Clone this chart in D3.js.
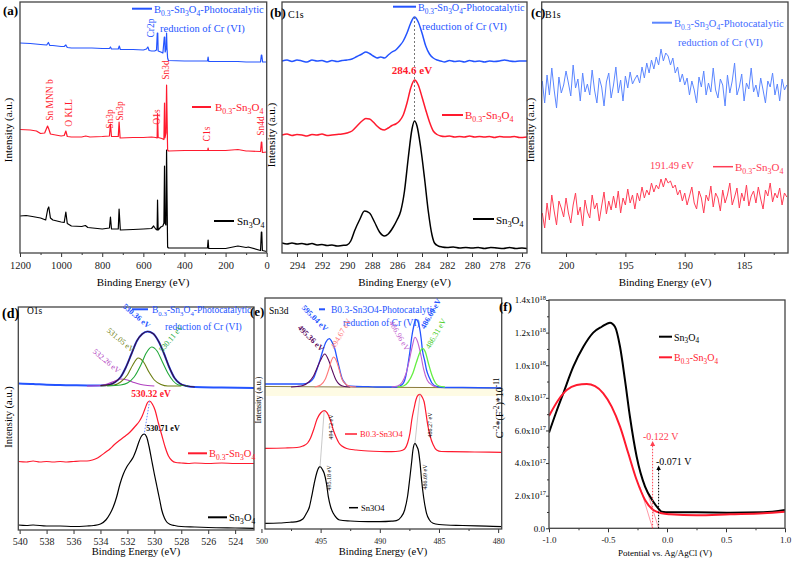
<!DOCTYPE html>
<html><head><meta charset="utf-8">
<script src="https://cdn.jsdelivr.net/npm/d3@7"></script>
<style>body{margin:0;background:#fff}</style>
</head><body><script>
// ---------------- DATA ----------------
// (a) survey spectra [binding energy eV, intensity a.u.]
const aBlue=[[1200,210],[1150,209.5],[1100,208.5],[1070,208],[1062,210.5],[1055,207.5],[1040,207.5],[1000,206.5],[985,206.5],[977,208],[970,205.5],[950,205],[900,205],[850,205],[800,204.5],[765,204.5],[760,206],[755,204],[722,204],[717,207],[712,203.5],[650,203.5],[600,203],[585,204],[578,206],[572,202.5],[560,202],[545,202],[536,203],[532,220],[530,220],[528,202],[515,201],[505,200],[498,216],[496,216],[494,201],[489,205],[487,220],[485,205],[482,195],[478,192.5],[400,192],[300,192],[288,192],[285,196],[282,191.5],[200,191.5],[140,191.5],[100,191],[30,191],[26,198],[24,198],[20,191],[0,191]];
const aRed=[[1200,123.5],[1150,123],[1120,122],[1100,119.5],[1080,120],[1066,127],[1060,124],[1052,119],[1040,118.5],[1000,117],[985,117.5],[977,122],[970,116.5],[950,116],[900,116],[880,117],[860,116],[800,116.5],[765,117],[760,129],[755,116.5],[722,116.5],[718,131],[713,115],[650,115.5],[600,115.5],[560,116],[540,115.5],[533,115],[531,139.5],[528,115.5],[510,114.5],[500,113.5],[497,150],[495,115],[490,120],[487,168],[485,140],[482,103],[478,102],[400,102.5],[300,102.5],[287,102.5],[285,105],[283,102.5],[200,102.5],[140,103.5],[100,102],[90,102],[30,101.5],[26,111],[24,111],[21,100.5],[0,101]];
const aBlack=[[1200,37],[1170,37.5],[1140,36.5],[1100,35],[1075,33],[1065,44],[1060,46],[1052,35],[1040,33],[1000,31],[985,30.5],[977,41],[970,29.5],[950,27],[900,26.5],[882,27.5],[870,25.5],[800,24],[765,25],[760,36],[755,24],[722,24],[718,44],[712,23],[650,23.5],[600,24],[560,24.5],[550,27],[540,24],[533,23],[531,53],[528,23],[515,26],[505,27],[500,30],[497,87],[495,30],[490,28],[487,103],[485,60],[482,6],[478,5],[400,5],[300,5],[288,5],[285,13],[282,4.5],[200,4.5],[140,7],[100,5.5],[90,6],[30,2.5],[26,21],[24,21],[21,2.5],[0,1.5]];
// (b) C1s
const bBlue=[[295.2,192],[294.8,193],[294.4,191.5],[294,193],[293.6,192],[293.2,191],[292.8,193],[292.4,192],[292,192.5],[291.6,191],[291.2,192.5],[290.8,191.5],[290.4,192.5],[290,193],[289.6,194],[289.2,196.5],[288.8,199],[288.5,201],[288.2,199.5],[287.9,197],[287.6,195],[287.3,196],[287,195],[286.7,198],[286.4,201],[286.1,203],[285.8,207],[285.5,212],[285.2,220],[284.9,230],[284.6,236],[284.3,231],[284,220],[283.7,207],[283.4,199],[283.1,195],[282.8,193],[282.5,192],[282.2,191],[281.8,192.5],[281.4,191.5],[281,192],[280.6,191],[280.2,192.5],[279.8,191.5],[279.4,192],[279,191],[278.6,192],[278.2,191.5],[277.8,192],[277.4,193],[277,192],[276.6,191.5],[276.2,192],[275.6,192]];
const bRed=[[295.2,118],[294.8,119],[294.4,117.5],[294,118.5],[293.6,118],[293.2,117],[292.8,118.5],[292.4,118],[292,119],[291.6,117.5],[291.2,118],[290.8,118.5],[290.4,119],[290,120],[289.6,122],[289.2,127],[288.8,132],[288.5,134.5],[288.2,134],[287.9,131],[287.6,127],[287.3,124],[287,123],[286.7,125],[286.4,127.5],[286.1,129],[285.8,132],[285.5,138],[285.2,150],[284.9,165],[284.6,173],[284.3,168],[284,156],[283.7,143],[283.4,131],[283.1,122],[282.8,118.5],[282.5,117],[282.2,116.5],[281.8,117],[281.4,116],[281,116.5],[280.6,116],[280.2,117],[279.8,116],[279.4,116.5],[279,116],[278.6,116.5],[278.2,115.5],[277.8,116.5],[277.4,116],[277,116],[276.6,116.5],[276.2,115.5],[275.6,116]];
const bBlack=[[295.2,10],[294.8,9],[294.4,10],[294,9],[293.6,9.5],[293.2,8.5],[292.8,9.5],[292.4,8],[292,8.5],[291.6,7.5],[291.2,8],[290.8,7],[290.4,7.5],[290,8],[289.7,12],[289.4,22],[289,33],[288.6,42],[288.2,40],[287.8,31],[287.4,21],[287,17],[286.7,19],[286.3,26],[286,33],[285.7,42],[285.4,62],[285.1,95],[284.8,124],[284.6,132],[284.4,127],[284.1,105],[283.8,75],[283.5,42],[283.2,18],[283,10],[282.7,7],[282.4,6],[282,5.5],[281.5,6],[281,5],[280.5,5.5],[280,5],[279.5,5.5],[279,4.5],[278.5,5.5],[278,5],[277.5,4.5],[277,5.5],[276.5,4.5],[276,5],[275.6,4.5]];
// (c) B1s, energy grid 202.0 -> 181.4 eV in 0.2 eV steps
const cStart=202, cStep=0.2;
const cBlue=[172,150,178,158,185,163,145,176,160,168,182,170,157,188,165,174,152,180,161,169,158,183,163,150,175,166,147,171,180,155,168,186,160,173,152,177,165,181,169,174,178,170,186,175,190,180,193,184,196,188,204,192,200,197,188,195,180,186,171,179,168,175,158,172,163,150,176,166,182,158,170,161,185,163,155,174,168,147,178,160,172,190,158,166,179,152,170,164,185,161,168,156,175,163,150,172,166,180,158,169,152,174,163,168];
const cRed=[40,25,50,33,58,42,28,52,45,36,55,40,30,48,60,38,46,27,53,41,35,58,44,50,32,47,61,39,52,43,57,45,62,40,55,48,64,50,58,44,60,52,66,55,63,58,70,61,68,64,74,66,75,70,72,65,68,58,63,52,60,48,57,66,50,44,62,55,40,58,52,67,46,60,55,42,63,50,58,70,48,56,65,45,60,52,68,47,57,62,50,66,54,44,63,57,70,51,60,55,65,48,60,56];
// (d) O1s
const dBlue=[[540.1,146.5],[539,146],[538,145.3],[537,145],[536,144.7],[535,144.5],[534,144.5],[533.3,145.5],[532.9,148],[532.5,153],[532.1,163],[531.7,176],[531.3,189],[530.9,196],[530.5,198.5],[530.1,196.5],[529.7,189],[529.3,177],[528.9,163],[528.5,152],[528.1,146.5],[527.6,144],[527,143],[525,142.5],[522.6,142]];
const dFit=[[534,144.5],[533.3,145.5],[532.9,148],[532.5,153],[532.1,163],[531.7,176],[531.3,189],[530.9,196],[530.5,198.5],[530.1,196.5],[529.7,189],[529.3,177],[528.9,163],[528.5,152],[528.1,146.5],[527.6,144],[527,143]];
const dPeak1=[[535,144],[534,144.5],[533.5,146],[533,148.5],[532.5,151],[532,150],[531.5,147.5],[531,145.5],[530.5,144.5],[530,144]];
const dPeak2=[[534,144],[533,145],[532.5,148],[532,155],[531.6,165],[531.2,172],[530.8,168],[530.4,158],[530,150],[529.5,145.5],[529,144],[528,144]];
const dPeak3=[[533.5,144],[532.5,145],[532,147],[531.5,153],[531,165],[530.6,177],[530.2,183],[529.8,179],[529.4,168],[529,157],[528.6,149],[528.2,145],[527.5,144]];
const dRed=[[540.1,68.5],[539.5,68],[539,69],[538.5,68],[538,68.5],[537.5,68],[537,68.5],[536.5,68],[536,68.5],[535.5,69],[535,69],[534.6,70],[534.3,71.5],[534,74],[533.6,78],[533.3,81],[533,85],[532.6,89.5],[532.2,93.5],[531.8,98],[531.4,104],[531.1,109],[530.9,114],[530.7,121],[530.5,127.5],[530.35,129],[530.15,126],[529.95,120],[529.7,107],[529.45,95],[529.2,83],[528.95,74],[528.7,69.5],[528.4,67.5],[528,67],[527.5,66.5],[527,67],[526,66.5],[525,67],[524,66.5],[522.6,66.5]];
const dBlack=[[540.1,5],[539.5,4.5],[539,5],[538,4],[537,4],[536,3.5],[535,4],[534.5,4.5],[534,6],[533.6,10],[533.3,16],[533.05,23],[532.8,33],[532.55,46],[532.3,56],[532.05,63],[531.8,68],[531.56,73],[531.35,80],[531.15,88],[530.95,94],[530.75,96],[530.57,93],[530.4,84],[530.2,70],[530,56],[529.8,43],[529.6,30],[529.45,20],[529.25,12],[529.08,8],[528.8,5.5],[528.5,4.5],[528,3.5],[527,3],[526,2.5],[524,2],[522.6,1.7]];
// (e) Sn3d
const eBase=[[499.7,142.5],[479.7,141]];
const eBlue=[[499.7,145],[498,145],[497,145],[496.5,145],[496,146.5],[495.6,150.7],[495.3,160],[495.05,169],[494.8,179],[494.55,187],[494.27,190.3],[494,186],[493.8,180],[493.6,170],[493.4,160],[493.2,151],[492.95,146],[492.7,143],[492,142.5],[491,142.3],[490,142],[489,142],[488.6,142],[488.3,143],[488,146],[487.8,153],[487.6,166],[487.45,178],[487.3,192],[487.13,203],[486.97,209.7],[486.8,208],[486.66,202.3],[486.5,190],[486.4,179],[486.2,168],[486.05,159],[485.8,151],[485.6,146],[485.2,142.5],[484.5,141.5],[483,141.5],[479.7,141]];
const ePeak1=[[497.5,142],[497,142.5],[496.5,143.5],[496,147],[495.6,153],[495.3,161],[495,169],[494.65,175],[494.3,168],[494,158],[493.7,149],[493.4,144.5],[493,142.5],[492.5,142]];
const ePeak2=[[495.5,142],[495,144],[494.6,150],[494.3,160],[494.1,168],[493.9,172],[493.7,169],[493.45,160],[493.2,150],[492.9,145],[492.5,142.5],[492,142]];
const ePeak3=[[489,142],[488.5,143],[488.1,147],[487.8,155],[487.5,169],[487.25,183],[487.03,191.7],[486.8,187],[486.55,175],[486.3,160],[486,149],[485.6,144],[485.2,142]];
const ePeak4=[[488.5,142],[488,143],[487.6,147],[487.2,156],[486.9,167],[486.6,177],[486.4,180.7],[486.15,177],[485.9,166],[485.6,154],[485.3,146],[485,143],[484.5,142]];
const eRed=[[499.7,80.7],[498,81],[497,81.5],[496.5,83],[496.1,86],[495.85,91],[495.6,99],[495.3,110],[495,116],[494.7,118.3],[494.35,114],[494.1,106],[493.9,98],[493.7,92],[493.45,86],[493.2,83],[492.8,80.5],[492,79],[491,78],[490,77.5],[489,77.3],[488.3,78],[487.9,80],[487.65,86],[487.45,96],[487.3,109],[487.1,121],[486.95,129],[486.75,134],[486.6,134.7],[486.4,131.5],[486.25,127],[486.1,116],[485.95,104],[485.75,93],[485.5,84.5],[485.2,79],[484.8,77.5],[484,77.3],[482,77],[479.7,76.7]];
const eBlack=[[499.7,5.7],[498.5,6],[497.5,6.8],[497,7.3],[496.5,10],[496.2,15.7],[495.95,22],[495.76,32.3],[495.55,45],[495.3,57.3],[495.05,62.3],[494.85,59.5],[494.7,55.7],[494.5,45],[494.35,32.3],[494.15,22],[493.93,15.7],[493.65,11],[493.4,9],[492.5,8],[491,7.3],[490,7.3],[489,7.8],[488.6,8.3],[488.2,12],[487.9,19],[487.65,33],[487.45,52.3],[487.3,68],[487.2,79],[487.03,85.7],[486.85,82],[486.75,79],[486.6,66],[486.47,49],[486.3,32],[486.05,15.7],[485.8,9],[485.5,5.7],[485,4.5],[483,3.5],[481,2.8],[479.7,2.3]];
// (f) Mott-Schottky [potential V, C^-2 in 1e17 units]
const fBlack=[[-1,5.86],[-0.94,7.1],[-0.879,8.28],[-0.794,9.91],[-0.709,11.13],[-0.625,12.0],[-0.553,12.36],[-0.483,12.61],[-0.441,12.36],[-0.398,11.13],[-0.356,9.09],[-0.314,6.84],[-0.257,4.39],[-0.186,2.55],[-0.116,1.63],[-0.074,1.22],[-0.045,1.02],[0.025,0.98],[0.25,0.98],[0.534,0.96],[0.816,0.98],[1,1.12]];
const fRed=[[-1,6.89],[-0.921,7.87],[-0.85,8.48],[-0.765,8.79],[-0.68,8.85],[-0.61,8.72],[-0.54,8.28],[-0.469,7.46],[-0.398,6.23],[-0.328,4.60],[-0.257,2.96],[-0.186,1.74],[-0.116,1.12],[-0.045,0.92],[0.025,0.86],[0.25,0.80],[0.534,0.86],[0.816,0.92],[1,1.02]];
const fRedTangent=[[-0.229,2.55],[-0.122,0]];
const fBlackTangent=[[-0.17,2.3],[-0.071,0]];
const fOnsets=[-0.122,-0.071];
// tick values / labels
const aTicks=[1200,1000,800,600,400,200,0];
const bTicks=[294,292,290,288,286,284,282,280,278,276];
const cTicks=[200,195,190,185];
const dTicks=[540,538,536,534,532,530,528,526,524];
const eTicks=[500,495,490,485,480];
const fTicksX=[-1,-0.5,0,0.5,1];
const fTicksY=[0,2,4,6,8,10,12,14];
const fYLabels=["0.0","2.0x10^17","4.0x10^17","6.0x10^17","8.0x10^17","1.0x10^18","1.2x10^18","1.4x10^18"];

// ---------------- DRAWING ----------------
const SERIF='"Liberation Serif","Times New Roman",serif';
const BLUE='#2454ff', RED='#ff1a2e';
const svg=d3.select('body').append('svg').attr('width',792).attr('height',561).style('font-family',SERIF);
let clipN=0;
function panel(o){
  const x=d3.scaleLinear().domain(o.xd).range([o.l,o.r]);
  const y=d3.scaleLinear().domain(o.yd).range([o.b,o.t]);
  const g=svg.append('g');
  const id='clip'+(++clipN);
  svg.append('clipPath').attr('id',id).append('rect').attr('x',o.l).attr('y',o.t).attr('width',o.r-o.l).attr('height',o.b-o.t);
  const plot=g.append('g').attr('clip-path',`url(#${id})`);
  const ax=g.append('g').attr('transform',`translate(0,${o.b})`)
    .call(d3.axisBottom(x).tickValues(o.ticks).tickSize(4).tickPadding(o.tp).tickFormat(o.fmt||(d=>d)));
  ax.select('.domain').remove();
  ax.selectAll('line').attr('stroke','#333');
  ax.selectAll('text').attr('font-size',o.fs).attr('font-family',SERIF).attr('fill','#222');
  if(o.minor){
    const m=g.append('g').attr('transform',`translate(0,${o.b})`).call(d3.axisBottom(x).tickValues(o.minor).tickSize(2).tickFormat(''));
    m.select('.domain').remove(); m.selectAll('line').attr('stroke','#333');
  }
  g.append('rect').attr('x',o.l).attr('y',o.t).attr('width',o.r-o.l).attr('height',o.b-o.t)
    .attr('fill','none').attr('stroke','#444').attr('stroke-width',1.3);
  return {g,plot,x,y};
}
function draw(P,data,color,w,curve){
  return P.plot.append('path').datum(data).attr('fill','none').attr('stroke',color).attr('stroke-width',w)
    .attr('stroke-linejoin','round')
    .attr('d',d3.line().x(d=>P.x(d[0])).y(d=>P.y(d[1])).curve(curve||d3.curveLinear));
}
function rich(x,y,parts,o={}){
  const fs=o.fs||11;
  const t=svg.append('text').attr('x',x).attr('y',y).attr('font-size',fs).attr('fill',o.fill||'#000').attr('font-family',SERIF);
  if(o.anchor) t.attr('text-anchor',o.anchor);
  if(o.weight) t.attr('font-weight',o.weight);
  if(o.rot!=null) t.attr('transform',`rotate(${o.rot},${x},${y})`);
  let shift=0;
  parts.forEach(p=>{
    const s=typeof p==='string'?p:p[0], m=typeof p==='string'?'':p[1];
    const target=m==='s'?0.28:m==='p'?-0.4:0;
    const ts=t.append('tspan').text(s).attr('dy',((target-shift)*fs)+'px');
    if(m) ts.attr('font-size',fs*0.72);
    shift=target;
  });
  return t;
}
function hline(x1,x2,y,color,w){svg.append('line').attr('x1',x1).attr('x2',x2).attr('y1',y).attr('y2',y).attr('stroke',color).attr('stroke-width',w||2);}
const B03=['B',['0.3','s'],'-Sn',['3','s'],'O',['4','s']];
const SN=['Sn',['3','s'],'O',['4','s']];
const range=(a,b,s)=>d3.range(a,b+s/2,s);

// ===== (a) =====
const A=panel({l:20,r:266.7,t:2,b:253,xd:[1200,0],yd:[0,251],ticks:aTicks,minor:range(100,1100,200),fs:10.5,tp:5});
draw(A,aBlack,'#000',1.2); draw(A,aRed,RED,1.2); draw(A,aBlue,BLUE,1.2);
rich(3,15,['(a)'],{fs:13,weight:'bold'});
hline(132,152,8.7,BLUE); rich(154,13,[...B03,'-Photocatalytic'],{fill:BLUE,fs:10.5});
rich(160,32,['reduction of Cr (VI)'],{fill:BLUE,fs:10.5});
rich(153.5,28,['Cr2p'],{fill:BLUE,fs:9.5,anchor:'middle',rot:-90}).attr('dy','0.35em');
[['Sn MNN b',53,100],['O KLL',72,113],['Sn3p',113,119],['Sn3p',122.7,111],['O1s',160,117],['Sn3d',169,70],['C1s',210,134],['Sn4d',264,126]]
  .forEach(([s,x,y])=>rich(x,y,[s],{fill:RED,fs:9.5,anchor:'middle',rot:-90}).attr('dy','0.35em'));
hline(192,211,107,RED); rich(215,111,B03,{fill:RED});
hline(214,234,221,'#000'); rich(237,225,SN,{});
rich(12,130,['Intensity (a.u.)'],{fs:11,anchor:'middle',rot:-90});
rich(143,286,['Binding Energy (eV)'],{fs:11,anchor:'middle'});

// ===== (b) =====
const Bp=panel({l:282,r:527,t:2,b:253,xd:[295.2,275.6],yd:[0,251],ticks:bTicks,minor:range(295,277,2),fs:10.5,tp:5});
draw(Bp,bBlack,'#000',1.5,d3.curveMonotoneX); draw(Bp,bRed,RED,1.5,d3.curveMonotoneX); draw(Bp,bBlue,BLUE,1.5,d3.curveMonotoneX);
Bp.plot.append('line').attr('x1',Bp.x(284.6)).attr('x2',Bp.x(284.6)).attr('y1',Bp.y(236)).attr('y2',Bp.y(132))
  .attr('stroke','#777').attr('stroke-width',1).attr('stroke-dasharray','2,2');
rich(270,17,['(b)'],{fs:13,weight:'bold'});
rich(288,18,['C1s'],{fs:10});
hline(393,416,6.7,BLUE); rich(418,11,[...B03,'-Photocatalytic'],{fill:BLUE,fs:10.2});
rich(422,30,['reduction of Cr (VI)'],{fill:BLUE,fs:10.5});
rich(412,74,['284.6 eV'],{fill:RED,fs:11,weight:'bold',anchor:'middle'});
hline(442,463,115,RED); rich(465,119,B03,{fill:RED});
hline(473,494,219,'#000'); rich(496,224,SN,{});
rich(275,135,['Intensity (a.u.)'],{fs:11,anchor:'middle',rot:-90});
rich(404.5,286,['Binding Energy (eV)'],{fs:11,anchor:'middle'});

// ===== (c) =====
const C=panel({l:541.7,r:788,t:2,b:253,xd:[202.05,181.3],yd:[0,251],ticks:cTicks,minor:[197.5,192.5,187.5,182.5],fs:10.5,tp:5});
const cE=cBlue.map((v,i)=>cStart-i*cStep);
draw(C,cRed.map((v,i)=>[cE[i],v]),'#ff3d55',1);
draw(C,cBlue.map((v,i)=>[cE[i],v]),'#5b86ff',1);
rich(531,17,['(c)'],{fs:13,weight:'bold'});
rich(545,18,['B1s'],{fs:10});
hline(652,672,22.7,'#5b86ff'); rich(674,27,[...B03,'-Photocatalytic'],{fill:'#3f6cff',fs:10.5});
rich(678,46,['reduction of Cr (VI)'],{fill:'#3f6cff',fs:10.5});
rich(650,169,['191.49 eV'],{fill:'#ff3d55',fs:10.5});
hline(713,733,166.7,'#ff3d55',1.5); rich(735,171,B03,{fill:'#ff3d55'});
rich(534,130,['Intensity (a.u.)'],{fs:11,anchor:'middle',rot:-90});
rich(665,286,['Binding Energy (eV)'],{fs:11,anchor:'middle'});

// ===== (d) =====
const D=panel({l:18.3,r:254,t:307,b:530,xd:[540.1,522.6],yd:[0,223],ticks:dTicks,minor:range(539,523,2),fs:10,tp:4});
draw(D,dBlack,'#000',1.2,d3.curveMonotoneX); draw(D,dRed,RED,1.2,d3.curveMonotoneX);
draw(D,dBlue,BLUE,2,d3.curveMonotoneX);
draw(D,dPeak1,'#b040c0',1.1,d3.curveMonotoneX);
draw(D,dPeak2,'#6b7d10',1.1,d3.curveMonotoneX);
draw(D,dPeak3,'#22a83a',1.1,d3.curveMonotoneX);
draw(D,dFit,'#3a1040',1.2,d3.curveMonotoneX);
D.plot.append('line').attr('x1',D.x(530.35)).attr('y1',D.y(129)).attr('x2',D.x(530.75)).attr('y2',D.y(96))
  .attr('stroke','#6a8cff').attr('stroke-width',1).attr('stroke-dasharray','1.5,1.5');
rich(2,318,['(d)'],{fs:14,weight:'bold'});
rich(27,314,['O1s'],{fs:9.5});
hline(132,148,309.3,BLUE); rich(152,313,[...B03,'-Photocatalytic'],{fill:BLUE,fs:9.5});
rich(165,330,['reduction of Cr (VI)'],{fill:BLUE,fs:9.5});
rich(135,318,['530.36 eV'],{fill:BLUE,fs:8,weight:'bold',anchor:'middle',rot:40}).attr('dy','0.35em');
rich(119,342,['531.05 eV'],{fill:'#6b7d10',fs:8,anchor:'middle',rot:40}).attr('dy','0.35em');
rich(173,340,['530.11 eV'],{fill:'#22a83a',fs:8,anchor:'middle',rot:-50}).attr('dy','0.35em');
rich(105,363,['532.26 eV'],{fill:'#b040c0',fs:8,anchor:'middle',rot:40}).attr('dy','0.35em');
rich(151,397,['530.32 eV'],{fill:RED,fs:9.5,weight:'bold',anchor:'middle'}).attr('dy','0.35em');
rich(163,431,['530.71 eV'],{fill:'#000',fs:8,weight:'bold',anchor:'middle'}).attr('dy','0.35em');
hline(188,207,453.3,RED); rich(209,457,B03,{fill:RED,fs:10.5});
hline(208,227,517.3,'#000'); rich(229,521,SN,{fs:10.5});
rich(11.7,417,['Intensity (a.u.)'],{fs:10.5,anchor:'middle',rot:-90});
rich(136,555,['Binding Energy (eV)'],{fs:10.5,anchor:'middle'});

// ===== (e) =====
const E=panel({l:265,r:501.7,t:298,b:529,xd:[499.7,479.7],yd:[0,231],ticks:eTicks,minor:[497.5,492.5,487.5,482.5],fs:8,tp:5});
E.plot.append('rect').attr('x',E.x(499.7)).attr('width',E.x(479.7)-E.x(499.7)).attr('y',E.y(141)).attr('height',E.y(133)-E.y(141)).attr('fill','#fefbe4');
draw(E,eBase,'#8a7a3a',1);
draw(E,eBlack,'#000',1.2,d3.curveMonotoneX); draw(E,eRed,RED,1.2,d3.curveMonotoneX);
draw(E,eBlue,BLUE,1.3,d3.curveMonotoneX);
draw(E,ePeak1,'#5a0a60',1.1,d3.curveMonotoneX);
draw(E,ePeak2,'#ff7a7a',1.1,d3.curveMonotoneX);
draw(E,ePeak3,'#c060d0',1.1,d3.curveMonotoneX);
draw(E,ePeak4,'#66ee44',1.3,d3.curveMonotoneX);
[[[494.7,118.3],[495.05,62.3]],[[486.6,134.7],[487.03,85.7]]].forEach(seg=>draw(E,seg,'#bbb',0.8));
rich(250,316,['(e)'],{fs:13,weight:'bold'});
rich(269,314,['Sn3d'],{fs:9.5});
hline(319,325,309.3,BLUE); rich(331,313,['B0.3-Sn3O4-Photocatalytic'],{fill:BLUE,fs:9.5});
rich(343,326,['reduction of Cr (VI)'],{fill:BLUE,fs:9.5});
rich(313,320,['595.04 eV'],{fill:BLUE,fs:8,weight:'bold',anchor:'middle',rot:45}).attr('dy','0.35em');
rich(309,340,['495.36 eV'],{fill:'#5a0a60',fs:8,weight:'bold',anchor:'middle',rot:45}).attr('dy','0.35em');
rich(343,335,['494.67 eV'],{fill:'#ff7a7a',fs:8,anchor:'middle',rot:-60}).attr('dy','0.35em');
rich(397,337,['486.96 eV'],{fill:'#c060d0',fs:8,anchor:'middle',rot:60}).attr('dy','0.35em');
rich(433,315,['486.69 eV'],{fill:BLUE,fs:8,weight:'bold',anchor:'middle',rot:-60}).attr('dy','0.35em');
rich(438,335,['486.31 eV'],{fill:'#44cc22',fs:8,anchor:'middle',rot:-60}).attr('dy','0.35em');
[['494.72 eV',333,427],['486.27 eV',432,425],['495.18 eV',331,478],['486.69 eV',427,477]]
  .forEach(([s,x,y])=>rich(x,y,[s],{fs:6,anchor:'middle',rot:-90}).attr('dy','0.35em'));
hline(345,357,434,RED,1.5); rich(360,437,['B0.3-Sn3O4'],{fill:RED,fs:8.5});
hline(349,358,507.7,'#000',1.5); rich(361,511,['Sn3O4'],{fs:8.5});
rich(261,400,['Intensity (a.u.)'],{fs:8,anchor:'middle',rot:-90});
rich(383,555,['Binding Energy (eV)'],{fs:10.5,anchor:'middle'});

// ===== (f) =====
const F=panel({l:549,r:785,t:300,b:528.3,xd:[-1,1],yd:[0,14],ticks:fTicksX,minor:[-0.75,-0.25,0.25,0.75],fs:9,tp:4,fmt:d=>d.toFixed(1)});
const fy=svg.append('g').attr('transform','translate(549,0)').call(d3.axisLeft(F.y).tickValues(fTicksY).tickSize(3).tickFormat(''));
fy.select('.domain').remove(); fy.selectAll('line').attr('stroke','#333');
const fym=svg.append('g').attr('transform','translate(549,0)').call(d3.axisLeft(F.y).tickValues(range(1,13,2)).tickSize(2).tickFormat(''));
fym.select('.domain').remove(); fym.selectAll('line').attr('stroke','#333');
fTicksY.forEach((v,i)=>{
  const [m,e]=fYLabels[i].split('^');
  const parts=e?[m,[e,'p']]:[m];
  rich(e?546:545, F.y(v)+3.3, parts,{fs:9,anchor:'end'});
});
draw(F,fRedTangent,'#ff8090',0.8); draw(F,fBlackTangent,'#ff8090',0.8);
draw(F,fBlack,'#000',2,d3.curveMonotoneX); draw(F,fRed,RED,2,d3.curveMonotoneX);
svg.append('defs').html('<marker id="arR" viewBox="0 0 6 6" refX="3" refY="3" markerWidth="5" markerHeight="5" orient="auto"><path d="M0,0L6,3L0,6z" fill="#ff4050"/></marker><marker id="arK" viewBox="0 0 6 6" refX="3" refY="3" markerWidth="5" markerHeight="5" orient="auto"><path d="M0,0L6,3L0,6z" fill="#000"/></marker>');
[[fOnsets[0],5.2,'#ff4050','arR'],[fOnsets[1],3.7,'#000','arK']].forEach(([v,top,c,m])=>{
  svg.append('line').attr('x1',F.x(v)).attr('x2',F.x(v)).attr('y1',F.y(0)).attr('y2',F.y(top))
    .attr('stroke',c).attr('stroke-width',1).attr('stroke-dasharray','1.5,1.5').attr('marker-end',`url(#${m})`);
});
rich(643,440,['-0.122 V'],{fill:'#ff4050',fs:10});
rich(656,465,['-0.071 V'],{fs:10});
hline(659,672,336.7,'#000',2); rich(674,340.5,SN,{fs:10});
hline(659,672,357.3,RED,2); rich(674,361,B03,{fill:RED,fs:10});
rich(499,311,['(f)'],{fs:13,weight:'bold'});
rich(503,408,['C',['-2','p'],'*(F',['-2','p'],')*10',['-11','p']],{fs:10,anchor:'middle',rot:-90});
rich(665,556,['Potential vs. Ag/AgCl (V)'],{fs:9,anchor:'middle'});
</script></body></html>
